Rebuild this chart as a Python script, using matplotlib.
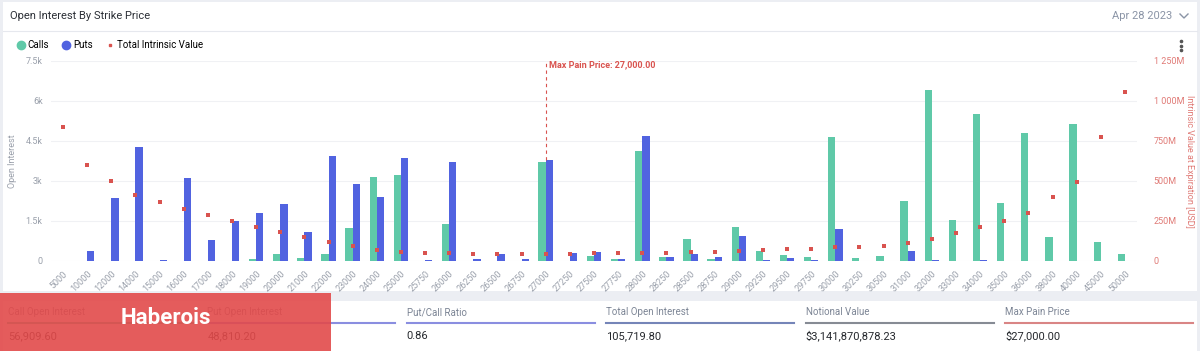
import matplotlib
matplotlib.use("Agg")
import matplotlib.pyplot as plt
from matplotlib.lines import Line2D
from matplotlib.patches import Rectangle

plt.rcParams["font.family"] = ["Roboto", "DejaVu Sans"]

strikes = ["5000", "10000", "12000", "14000", "15000", "16000", "17000", "18000",
           "19000", "20000", "21000", "22000", "23000", "24000", "25000", "25750",
           "26000", "26250", "26500", "26750", "27000", "27250", "27500", "27750",
           "28000", "28250", "28500", "28750", "29000", "29250", "29500", "29750",
           "30000", "30250", "30500", "31000", "32000", "33000", "34000", "35000",
           "36000", "38000", "40000", "45000", "50000"]
calls = [0, 0, 0, 0, 0, 0, 0, 0,
         62, 262, 112, 262, 1250, 3150, 3225, 0,
         1400, 0, 0, 0, 3725, 0, 187, 75,
         4125, 137, 825, 87, 1275, 375, 237, 137,
         4662, 112, 187, 2237, 6400, 1525, 5500, 2187,
         4787, 887, 5137, 712, 262]
puts = [0, 375, 2362, 4287, 40, 3125, 787, 1500,
        1800, 2137, 1100, 3950, 2887, 2412, 3875, 25,
        3725, 87, 262, 87, 3775, 287, 337, 62,
        4687, 162, 262, 137, 937, 25, 112, 37,
        1200, 0, 0, 362, 37, 0, 25, 0,
        0, 0, 0, 0, 0]
intrinsic_m = [840, 598, 500, 410, 367, 323, 287, 250,
               215, 181, 148, 119, 94, 71, 54, 48,
               48, 46, 44, 44, 44, 44, 48, 48,
               48, 52, 58, 58, 65, 69, 73, 77,
               85, 90, 96, 110, 140, 173, 210, 252,
               298, 398, 496, 775, 1058]
max_pain = "27000"

stat_labels = ["Call Open Interest", "Put Open Interest", "Put/Call Ratio",
               "Total Open Interest", "Notional Value", "Max Pain Price"]
stat_values = ["56,909.60", "48,810.20", "0.86", "105,719.80",
               "$3,141,870,878.23", "$27,000.00"]
stat_colors = ["#5fc9a8", "#8a8ee0", "#8a8ee0", "#7585b8", "#868b94", "#d98585"]

CALL_C = "#5fc9a8"
PUT_C = "#5163e0"
DOT_C = "#d9534f"
GRID_C = "#f0f1f4"
TICK_C = "#9aa0ab"
RIGHT_C = "#e07a76"

W, H = 1200, 351
fig = plt.figure(figsize=(12, 3.51), dpi=100, facecolor="#eceef3")


def fx(px):
    return px / W


def fy(py):
    return 1 - py / H


# background cards
fig.patches.append(Rectangle((fx(3), fy(291)), fx(1194), 289 / H,
                             transform=fig.transFigure, facecolor="white",
                             edgecolor="none", zorder=-10))
fig.patches.append(Rectangle((fx(3), 0), fx(1194), 50 / H,
                             transform=fig.transFigure, facecolor="white",
                             edgecolor="none", zorder=-10))
fig.add_artist(Line2D([fx(3), fx(1197)], [fy(31), fy(31)], color="#e6e8ee", lw=0.8))

fig.text(fx(10), fy(16), "Open Interest By Strike Price", fontsize=8,
         color="#2b2f36", va="center")
fig.text(fx(1172), fy(16), "Apr 28 2023", fontsize=8, color="#8a94a6",
         va="center", ha="right")
fig.add_artist(Line2D([fx(1180), fx(1184), fx(1188)], [fy(14), fy(18), fy(14)],
                      color="#8a94a6", lw=1.0))
fig.add_artist(Line2D([fx(1181)] * 3, [fy(41), fy(45.5), fy(50)], color="#555",
                      marker="o", markersize=1.6, linestyle="none"))

# chart
ax = fig.add_axes([fx(51), fy(261), fx(1086), 200 / H])
ax.patch.set_alpha(0)
x = list(range(len(strikes)))
bw = 0.3
ax.bar([i - bw / 2 for i in x], calls, width=bw, color=CALL_C, zorder=2)
ax.bar([i + bw / 2 for i in x], puts, width=bw, color=PUT_C, zorder=2)
ax.set_xlim(-0.5, len(strikes) - 0.5)
ax.set_ylim(0, 7500)
ax.set_yticks([0, 1500, 3000, 4500, 6000, 7500])
ax.set_yticklabels(["0", "1.5k", "3k", "4.5k", "6k", "7.5k"])
ax.grid(axis="y", color=GRID_C, lw=0.8, zorder=0)
ax.set_axisbelow(True)
for s in ax.spines.values():
    s.set_visible(False)
ax.tick_params(length=0, labelsize=6.5, colors=TICK_C, pad=6)
ax.set_xticks(x)
ax.set_xticklabels(strikes, rotation=45, ha="right", rotation_mode="anchor")
ax.set_ylabel("Open Interest", fontsize=6.5, color=TICK_C, labelpad=6)

ax2 = ax.twinx()
ax2.scatter(x, [v * 1e6 for v in intrinsic_m], marker="s", s=6, color=DOT_C,
            zorder=4, linewidths=0)
ax2.set_ylim(0, 1250e6)
ax2.set_yticks([0, 250e6, 500e6, 750e6, 1000e6, 1250e6])
ax2.set_yticklabels(["0", "250M", "500M", "750M", "1 000M", "1 250M"])
for s in ax2.spines.values():
    s.set_visible(False)
ax2.tick_params(length=0, labelsize=6.5, colors=RIGHT_C, pad=12)
ax2.set_ylabel("Intrinsic Value at Expiration [USD]", fontsize=6.5,
               color=RIGHT_C, rotation=270, labelpad=7)

# max pain marker
mp = strikes.index(max_pain)
ax.vlines(mp, max(calls[mp], puts[mp]), 7500, colors=DOT_C, linestyles=(0, (3, 3)),
          lw=0.8, zorder=3)
ax.text(mp + 0.15, 7350, "Max Pain Price: 27,000.00", fontsize=6.5, color=DOT_C,
        fontweight="bold", va="center", ha="left")

# legend
handles = [
    Line2D([], [], marker="o", linestyle="none", color=CALL_C, markersize=6),
    Line2D([], [], marker="o", linestyle="none", color=PUT_C, markersize=6),
    Line2D([], [], marker="s", linestyle="none", color=DOT_C, markersize=2),
]
fig.legend(handles, ["Calls", "Puts", "Total Intrinsic Value"], loc="center left",
           bbox_to_anchor=(fx(6), fy(45)), ncol=3, frameon=False, fontsize=7,
           handletextpad=0.1, columnspacing=1.2, handlelength=1.2)

# stat cards
for i, (lab, val, col) in enumerate(zip(stat_labels, stat_values, stat_colors)):
    x0 = 8 + i * 199.4
    fig.text(fx(x0), fy(312), lab, fontsize=7, color="#7c8595", va="center")
    fig.add_artist(Line2D([fx(x0), fx(x0 + 188)], [fy(323), fy(323)], color=col, lw=1.5))
    fig.text(fx(x0), fy(336), val, fontsize=8, color="#25282d", va="center")

# watermark
fig.patches.append(Rectangle((0, 0), fx(331), 58 / H, transform=fig.transFigure,
                             facecolor="#e24a4a", edgecolor="none", alpha=0.9, zorder=5))
fig.text(fx(166), fy(318), "Haberois", fontsize=16, color="white",
         fontweight="bold", ha="center", va="center", zorder=6)

fig.savefig("out.png", dpi=100, facecolor=fig.get_facecolor())
